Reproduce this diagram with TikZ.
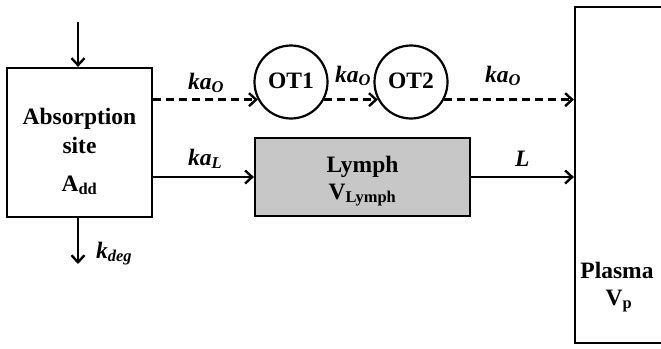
\documentclass[tikz,border=0pt]{standalone}
\usepackage{fontspec}
\setmainfont{Liberation Serif}
\usetikzlibrary{arrows.meta}
\begin{document}
\begin{tikzpicture}[x=1pt,y=-1pt,
  every node/.style={font=\bfseries\fontsize{23.5}{29}\selectfont},
  line/.style={line width=2.4pt,-{Straight Barb[length=7pt,width=13pt,line width=2.4pt]}},
  dline/.style={line,dash pattern=on 8pt off 5pt},
  box/.style={draw,line width=2.2pt,inner sep=0pt},
  lbl/.style={inner sep=0pt}]
\useasboundingbox (0,0) rectangle (661,348);
\clip (0,0) rectangle (661,348);
\node[box,minimum width=145pt,minimum height=149pt] (abs) at (79.5,142.5) {};
\node[lbl,anchor=base] (abst1) at (79.5,124) {Absorption};
\node[lbl,anchor=base] (abst2) at (79.5,153) {site};
\node[lbl,anchor=base] (add) at (79.5,191) {A\textsubscript{dd}};
\node[box,circle,minimum size=73pt] (ot1) at (291,82) {};
\node[lbl,anchor=base] at (291,88) {OT1};
\node[box,circle,minimum size=73pt] (ot2) at (411,82) {};
\node[lbl,anchor=base] at (411,88) {OT2};
\node[box,fill=black!22,minimum width=215pt,minimum height=78pt] (lymph) at (362.5,177) {};
\node[lbl,anchor=base] (lt) at (362.5,172) {Lymph};
\node[lbl,anchor=base] (lv) at (362.5,199) {V\textsubscript{Lymph}};
\node[box,minimum width=120pt,minimum height=336pt] (plasma) at (635,175) {};
\node[lbl,anchor=base] (pt) at (617,278) {Plasma};
\node[lbl,anchor=base] (pv) at (619,305) {V\textsubscript{p}};
\coordinate (in) at (78,22);
\coordinate (out) at (78,264);
\draw[line] (in) -- (abs.north -| in);
\draw[line] (abs.south -| out) -- (out);
\node[lbl,anchor=base west] at (96,258) {\textit{k}\textsubscript{\textit{deg}}};
\draw[dline] (abs.east |- ot1.208) -- (ot1.208);
\draw[dline] (ot1.332) -- (ot2.208);
\draw[dline] (ot2.332) -- (plasma.west |- ot2.332);
\draw[line] (abs.east |- lymph.west) -- (lymph.west);
\draw[line] (lymph.east) -- (plasma.west |- lymph.east);
\node[lbl,anchor=base west] at (188,89) {\textit{ka}\textsubscript{\textit{O}}};
\node[lbl,anchor=base west] at (335,82) {\textit{ka}\textsubscript{\textit{O}}};
\node[lbl,anchor=base west] at (485,82) {\textit{ka}\textsubscript{\textit{O}}};
\node[lbl,anchor=base west] at (188,165) {\textit{ka}\textsubscript{\textit{L}}};
\node[lbl,anchor=base west] at (515,166) {\textit{L}};
\end{tikzpicture}
\end{document}
